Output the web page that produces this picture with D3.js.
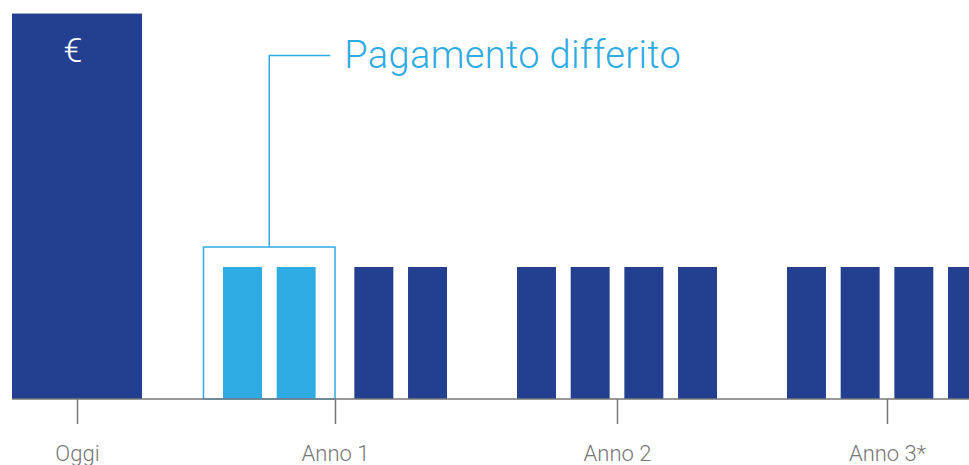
<!DOCTYPE html>
<html>
<head>
<meta charset="utf-8">
<script src="https://cdn.jsdelivr.net/npm/d3@7"></script>
<style>
    html, body { margin: 0; padding: 0; background: #fff; }
    svg { display: block; font-family: Roboto, "Open Sans", sans-serif; }
</style>
</head>
<body>
<svg id="chart" width="969" height="465"></svg>
<script>
// data
var todayLabel = 'Oggi';
var todayValue = 2.92;
var yearLabels = ['Anno 1', 'Anno 2', 'Anno 3*'];
var quarters = ['T1', 'T2', 'T3', 'T4'];
var quarterValues = [
    [1, 1, 1, 1],
    [1, 1, 1, 1],
    [1, 1, 1, 1]
];
var deferred = [[true, true, false, false], [false, false, false, false], [false, false, false, false]];
var calloutText = 'Pagamento differito';

var navy = '#22408f';
var lightBlue = '#2eabe3';
var axisGrey = '#777777';

var svg = d3.select('#chart');
var width = 969;
var baseY = 399;

var y = d3.scaleLinear().domain([0, 3]).range([baseY, 3]);

// year groups and quarters inside them
var yearX = d3.scaleLinear().domain([0, 2]).range([247, 787]);
var quarterX = d3.scaleBand().domain(quarters).range([0, 200]).paddingInner(0.274);
var deferredShift = -24;

var todayX = d3.scaleBand().domain([todayLabel]).range([12, 142]);

var bars = [];
yearLabels.forEach(function(year, i){
    quarters.forEach(function(q, j){
        bars.push({
            year: year,
            quarter: q,
            value: quarterValues[i][j],
            deferred: deferred[i][j],
            x: yearX(i) + quarterX(q) + (deferred[i][j] ? deferredShift : 0)
        });
    });
});

// today bar
svg.append('rect')
    .attr('x', todayX(todayLabel))
    .attr('y', y(todayValue))
    .attr('width', todayX.bandwidth())
    .attr('height', baseY - y(todayValue))
    .attr('fill', navy);

svg.append('text')
    .attr('x', todayX(todayLabel) + todayX.bandwidth() / 2 - 4)
    .attr('y', 62)
    .attr('text-anchor', 'middle')
    .attr('font-size', 34)
    .attr('font-weight', 300)
    .attr('fill', '#fff')
    .text('€');

// quarter bars
svg.selectAll('rect.quarter')
    .data(bars)
    .enter()
    .append('rect')
    .classed('quarter', true)
    .attr('x', function(d){ return d.x; })
    .attr('y', function(d){ return y(d.value); })
    .attr('width', quarterX.bandwidth())
    .attr('height', function(d){ return baseY - y(d.value); })
    .attr('fill', function(d){ return d.deferred ? lightBlue : navy; });

// tick positions: middle of each year's bars
var centers = [todayX(todayLabel) + todayX.bandwidth() / 2];
yearLabels.forEach(function(year){
    var ext = d3.extent(bars.filter(function(d){ return d.year === year; })
        .reduce(function(a, d){ return a.concat([d.x, d.x + quarterX.bandwidth()]); }, []));
    centers.push((ext[0] + ext[1]) / 2);
});
var axisX = d3.scaleOrdinal().domain([todayLabel].concat(yearLabels)).range(centers);

// callout box around deferred bars
var def = bars.filter(function(d){ return d.deferred; });
var boxLeft = d3.min(def, function(d){ return d.x; }) - 19.5;
var boxRight = centers[1];
var boxTop = y(d3.max(def, function(d){ return d.value; })) - 20;
var boxMid = (boxLeft + boxRight) / 2;

svg.append('rect')
    .attr('x', boxLeft)
    .attr('y', boxTop)
    .attr('width', boxRight - boxLeft)
    .attr('height', baseY - boxTop)
    .attr('fill', 'none')
    .attr('stroke', lightBlue)
    .attr('stroke-width', 1.5);

svg.append('path')
    .attr('d', d3.line()([[boxMid, boxTop], [boxMid, 55.5], [boxMid + 61, 55.5]]))
    .attr('fill', 'none')
    .attr('stroke', lightBlue)
    .attr('stroke-width', 1.5);

svg.append('text')
    .attr('x', boxMid + 75)
    .attr('y', 68)
    .attr('font-size', 38)
    .attr('font-weight', 300)
    .attr('letter-spacing', 0.35)
    .attr('fill', lightBlue)
    .text(calloutText);

// baseline and axis
svg.append('line')
    .attr('x1', 12)
    .attr('x2', width)
    .attr('y1', baseY)
    .attr('y2', baseY)
    .attr('stroke', axisGrey)
    .attr('stroke-width', 1.5);

var axis = svg.append('g')
    .attr('transform', 'translate(0,' + baseY + ')')
    .call(d3.axisBottom(axisX).tickSize(25).tickPadding(21).tickSizeOuter(0));

axis.select('.domain').remove();
axis.selectAll('.tick line').attr('stroke', axisGrey).attr('stroke-width', 1.5);
axis.selectAll('.tick text')
    .attr('fill', axisGrey)
    .attr('font-size', 22)
    .attr('font-weight', 300)
    .attr('font-family', 'Roboto, sans-serif');
</script>
</body>
</html>
